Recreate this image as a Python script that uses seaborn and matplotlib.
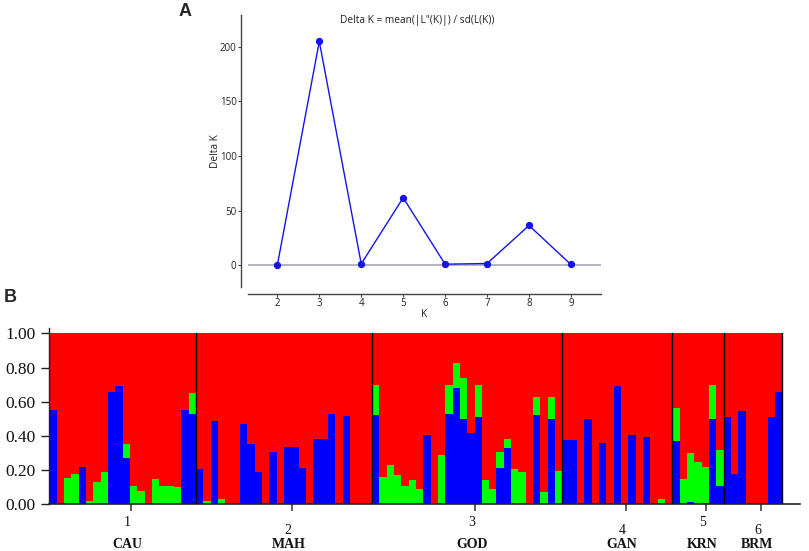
import numpy as np
import pandas as pd
import matplotlib
matplotlib.use("Agg")
import matplotlib.pyplot as plt
import seaborn as sns
from matplotlib.transforms import blended_transform_factory

# ---------------- Panel A data ----------------
k_values = [2, 3, 4, 5, 6, 7, 8, 9]
delta_k = [0.0, 204.8, 1.2, 61.7, 0.9, 1.5, 36.3, 0.6]

# ---------------- Panel B data ----------------
pop_numbers = ["1", "2", "3", "4", "5", "6"]
pop_names = ["CAU", "MAH", "GOD", "GAN", "KRN", "BRM"]
pop_sizes = [20, 24, 26, 15, 7, 8]

blue_cau = [0.55, 0, 0, 0, 0.22, 0, 0, 0, 0.657, 0.69, 0.27, 0, 0, 0, 0, 0, 0, 0, 0.55, 0.53]
green_cau = [0, 0, 0.156, 0.175, 0, 0.02, 0.13, 0.19, 0, 0, 0.08, 0.11, 0.08, 0, 0.15, 0.107, 0.107, 0.10, 0, 0.12]

blue_mah = [0.207, 0, 0.485, 0, 0, 0, 0.47, 0.35, 0.19, 0, 0.306, 0, 0.335, 0.335, 0.21, 0,
            0.384, 0.384, 0.528, 0, 0.515, 0, 0, 0]
green_mah = [0, 0.02, 0, 0.03, 0.01, 0, 0, 0, 0, 0, 0, 0, 0, 0, 0, 0,
             0, 0, 0, 0, 0, 0, 0, 0]

blue_god = [0.522, 0, 0, 0, 0, 0, 0, 0.407, 0, 0, 0.528, 0.678, 0.50, 0.415, 0.513, 0, 0,
            0.212, 0.327, 0, 0, 0, 0.522, 0, 0.50, 0]
green_god = [0.178, 0.162, 0.228, 0.17, 0.105, 0.144, 0.092, 0, 0.006, 0.29, 0.172, 0.15, 0.237, 0, 0.187, 0.142, 0.092,
             0.094, 0.057, 0.207, 0.187, 0.005, 0.108, 0.07, 0.13, 0.195]

blue_gan = [0.376, 0.376, 0, 0.50, 0, 0.359, 0, 0.692, 0, 0.407, 0, 0.392, 0, 0, 0]
green_gan = [0, 0, 0, 0, 0, 0, 0, 0, 0, 0, 0, 0, 0, 0.03, 0.006]

blue_krn = [0.372, 0, 0.016, 0, 0.006, 0.50, 0.107]
green_krn = [0.191, 0.15, 0.284, 0.245, 0.214, 0.20, 0.213]

blue_brm = [0.513, 0.177, 0.548, 0, 0, 0, 0.513, 0.655]
green_brm = [0, 0, 0, 0, 0, 0, 0, 0]

blue_all = blue_cau + blue_mah + blue_god + blue_gan + blue_krn + blue_brm
green_all = green_cau + green_mah + green_god + green_gan + green_krn + green_brm

RED, GREEN, BLUE = "#FF0000", "#00FF00", "#0000FF"

sns.set_style("ticks")
plt.rcParams["font.family"] = ["Open Sans", "DejaVu Sans"]

fig = plt.figure(figsize=(8.09, 5.51), dpi=100)

# ================= Panel A =================
axA = fig.add_axes([248 / 809, 1 - 287 / 551, (600.7 - 248) / 809, (287 - 15) / 551])
dfA = pd.DataFrame({"K": k_values, "DeltaK": delta_k})
axA.axhline(0, color="#A8A8B8", lw=1.2, zorder=1)
sns.lineplot(data=dfA, x="K", y="DeltaK", ax=axA, color="#1414E6", lw=1.0,
             marker="o", markersize=4.5, markeredgecolor="#1414E6", zorder=3)
axA.set_xlim(1.30, 9.71)
axA.set_ylim(-20, 229)
axA.set_xticks(k_values)
axA.set_yticks([0, 50, 100, 150, 200])
axA.tick_params(axis="both", labelsize=7, length=2, width=0.8, pad=1.2,
                color="#444444", labelcolor="#222222")
axA.set_xlabel("K", fontsize=7.3, labelpad=0, color="#222222")
axA.set_ylabel("Delta K", fontsize=7.3, color="#222222")
axA.yaxis.set_label_coords((221 - 248) / (600.7 - 248), 0.5)
fig.text(416.7 / 809, 1 - 20 / 551, "Delta K = mean(|L\"(K)|) / sd(L(K))",
         fontsize=7.3, ha="center", va="center", color="#222222")
sns.despine(ax=axA, offset=5)
for s in ("left", "bottom"):
    axA.spines[s].set_color("#444444")
    axA.spines[s].set_linewidth(1.0)

# ================= Panel B =================
axB = fig.add_axes([49.3 / 809, 1 - 504.3 / 551, (800 - 49.3) / 809, (504.3 - 328.3) / 551])
n = len(blue_all)
dfB = pd.DataFrame({
    "ind": np.arange(n),
    "red": np.ones(n),
    "green_top": np.array(blue_all) + np.array(green_all),
    "blue": np.array(blue_all),
})
common = dict(x="ind", ax=axB, width=1.0, saturation=1, errorbar=None,
              linewidth=0, antialiased=False)
sns.barplot(data=dfB, y="red", color=RED, **common)
sns.barplot(data=dfB, y="green_top", color=GREEN, **common)
sns.barplot(data=dfB, y="blue", color=BLUE, **common)

axB.set_xlim(-0.5, 101.9)
axB.set_ylim(0, 1.03)
axB.set_xlabel("")
axB.set_ylabel("")

bounds = np.cumsum(pop_sizes)
starts = bounds - np.array(pop_sizes)
for b in bounds:
    axB.plot([b - 0.5, b - 0.5], [0, 1.0], color="black", lw=1.0, zorder=5)

mids = starts + np.array(pop_sizes) / 2.0 - 0.5
axB.set_xticks(mids + 1.1)
axB.set_xticklabels([])
axB.tick_params(axis="x", length=5, width=1.2, color="#444444")

axB.set_yticks([0, 0.2, 0.4, 0.6, 0.8, 1.0])
axB.set_yticklabels(["0.00", "0.20", "0.40", "0.60", "0.80", "1.00"],
                    family=["Liberation Serif"], fontsize=12.5)
axB.tick_params(axis="y", length=6, width=1.0, color="#222222", pad=4, labelcolor="#111111")
for s in ("top", "right"):
    axB.spines[s].set_visible(False)
axB.spines["left"].set_color("#222222")
axB.spines["bottom"].set_color("#222222")
axB.spines["left"].set_linewidth(1.0)
axB.spines["bottom"].set_linewidth(1.2)

trans = blended_transform_factory(axB.transData, fig.transFigure)
for i, (num, name) in enumerate(zip(pop_numbers, pop_names)):
    xl = mids[i] + 0.6
    y_num = 522.8 if i % 2 == 0 else 530.2
    axB.text(xl, 1 - y_num / 551, num, transform=trans, ha="center", va="center",
             family=["Liberation Serif"], fontsize=10, color="#111111")
    axB.text(xl, 1 - 544 / 551, name, transform=trans, ha="center", va="center",
             family=["Liberation Serif"], fontsize=10, fontweight="bold", color="#111111")

# Panel letters
fig.text(185 / 809, 1 - 11 / 551, "A", family=["Liberation Sans"], fontsize=13,
         fontweight="bold", ha="center", va="center")
fig.text(10 / 809, 1 - 298 / 551, "B", family=["Liberation Sans"], fontsize=13,
         fontweight="bold", ha="center", va="center")

fig.savefig("out.png", dpi=100)
